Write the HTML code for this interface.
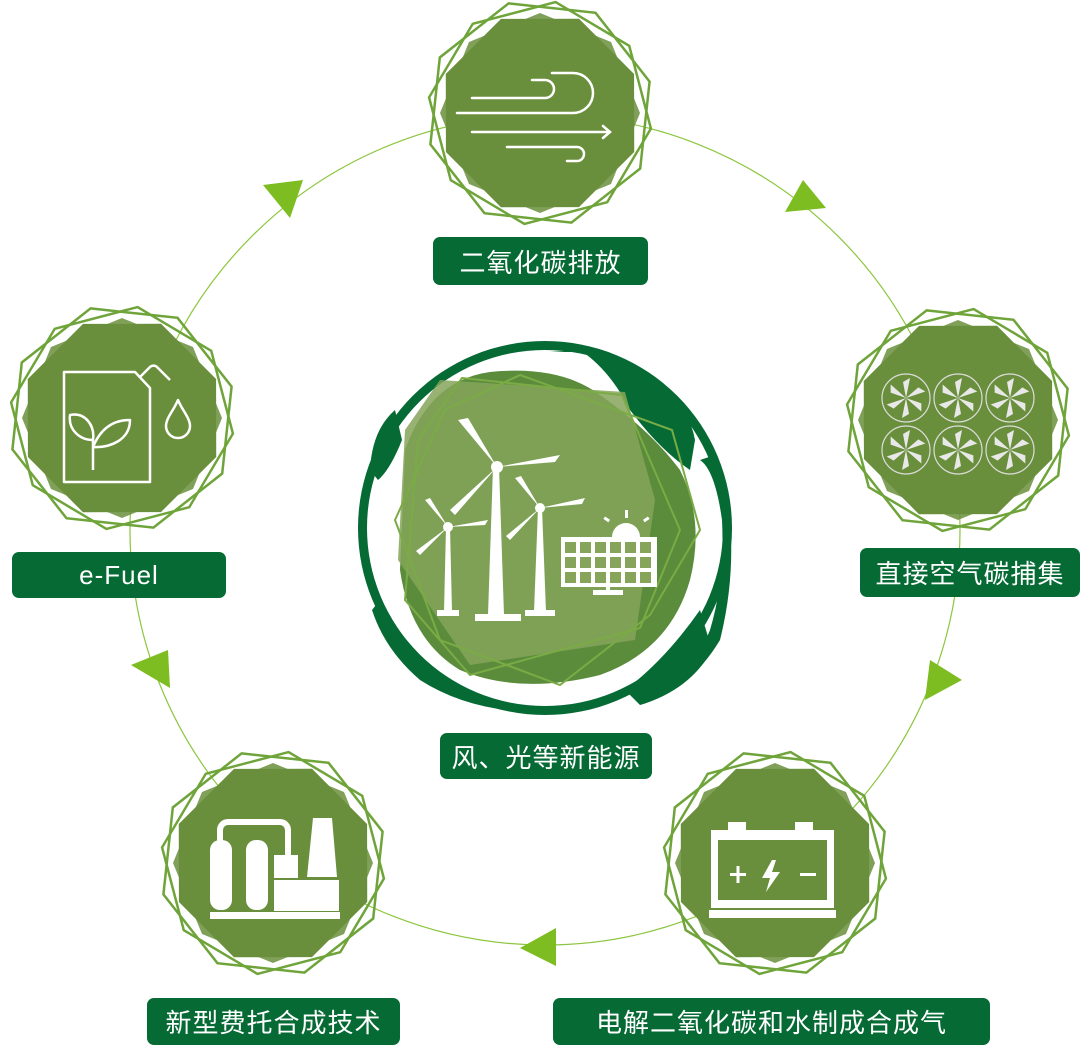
<!DOCTYPE html>
<html><head><meta charset="utf-8"><style>
html,body{margin:0;padding:0;background:#fff;width:1080px;height:1045px;overflow:hidden}
.lb{position:absolute;background:#066a35;color:#fff;border-radius:7px;font-family:"Liberation Sans","Noto Sans CJK SC",sans-serif;font-size:26px;display:flex;align-items:center;justify-content:center;letter-spacing:1px}
</style></head><body>
<svg width="1080" height="1045" style="position:absolute;left:0;top:0">
<defs>
<g id="nd">
<polygon points="0,-102 72,-72 102,0 72,72 0,102 -72,72 -102,0 -72,-72" fill="#6a8f3c" transform="rotate(22.5)"/>
<polygon points="0,-100 71,-71 100,0 71,71 0,100 -71,71 -100,0 -71,-71" fill="#6a8f3c" opacity="0.85"/>
<polygon points="0,-112 79,-79 112,0 79,79 0,112 -79,79 -112,0 -79,-79" fill="none" stroke="#6fa43a" stroke-width="2.5" transform="rotate(8)"/>
<polygon points="0,-114 81,-81 114,0 81,81 0,114 -81,81 -114,0 -81,-81" fill="none" stroke="#6fa43a" stroke-width="2.5" transform="rotate(-16)"/>
</g>
<g id="pin">
<circle r="24" fill="none" stroke="#ddd" stroke-width="1.2"/>
<g fill="#e8e8e8">
<path d="M0,0 L4,-20 L-3,-16 Z"/><path d="M0,0 L4,-20 L-3,-16 Z" transform="rotate(60)"/><path d="M0,0 L4,-20 L-3,-16 Z" transform="rotate(120)"/><path d="M0,0 L4,-20 L-3,-16 Z" transform="rotate(180)"/><path d="M0,0 L4,-20 L-3,-16 Z" transform="rotate(240)"/><path d="M0,0 L4,-20 L-3,-16 Z" transform="rotate(300)"/>
</g></g>
</defs>
<circle cx="545" cy="530" r="415" fill="none" stroke="#8cc63f" stroke-width="1.2"/>
<g fill="#7dbd21">
<polygon points="785,212 826,208 803,180"/>
<polygon points="925,700 962,680 930,660"/>
<polygon points="520,948 556,928 556,966"/>
<polygon points="131,665 170,688 168,650"/>
<polygon points="263,185 303,180 290,218"/>
</g>
<!-- globe -->
<circle cx="545" cy="528" r="187" fill="#066a35"/>
<circle cx="545" cy="528" r="178" fill="#fff"/>
<g fill="#066a35">
<path d="M370,470 Q372,430 395,410 L402,440 Q390,470 378,480 Z"/>
<path d="M380,600 Q400,650 440,680 Q490,705 540,712 Q470,712 420,680 Q385,650 372,610 Z"/>
<path d="M550,352 L580,350 Q610,370 630,410 Q660,450 690,470 L695,440 Q690,410 660,385 Q630,360 600,352 Z"/>
<path d="M700,460 Q715,470 722,520 Q725,580 710,630 Q690,680 640,705 Q690,690 720,640 Q735,580 730,520 Q725,480 715,455 Z"/>
<path d="M625,690 Q665,660 700,610 L712,650 Q690,690 640,705 Z"/>
</g>
<circle cx="568" cy="358" r="6" fill="#fff"/>
<path d="M405,450 Q430,380 490,372 Q560,365 600,395 Q650,430 680,470 Q705,520 690,580 Q670,650 600,675 Q520,695 460,670 Q410,640 400,570 Z" fill="#5a8c3c"/>
<polygon points="440,380 625,392 655,500 635,640 470,665 398,560 405,430" fill="#86a55a" opacity="0.85"/>
<polygon points="462,378 622,395 680,530 640,628 470,675 405,600 418,440" fill="none" stroke="#7aab45" stroke-width="2"/>
<polygon points="520,375 672,430 700,530 650,615 560,685 440,640 395,520 445,410" fill="none" stroke="#7aab45" stroke-width="2"/>
<!-- turbines -->
<g fill="#fff">
<polygon points="493,467 499,467 504,615 488,615"/><rect x="475" y="614" width="46" height="7"/>
<polygon points="538,508 542,508 546,612 534,612"/><rect x="525" y="610" width="30" height="6"/>
<polygon points="446,527 450,527 452,612 444,612"/><rect x="437" y="610" width="22" height="6"/>
<path d="M497,467 L458,420 L468,418 Z M497,467 L560,455 L555,462 Z M497,467 L455,515 L450,510 Z"/>
<circle cx="497" cy="467" r="6"/>
<path d="M540,508 L515,478 L521,476 Z M540,508 L585,498 L582,504 Z M540,508 L510,540 L506,536 Z"/>
<circle cx="540" cy="508" r="5"/>
<path d="M448,527 L425,500 L430,498 Z M448,527 L488,520 L485,525 Z M448,527 L420,555 L416,551 Z"/>
<circle cx="448" cy="527" r="5"/>
<rect x="561" y="537" width="96" height="50"/>
<rect x="593" y="590" width="30" height="5"/><rect x="606" y="585" width="4" height="8"/>
<path d="M612,537 a14,14 0 0 1 28,0 Z"/>
<rect x="625" y="510" width="3" height="8"/><rect x="604" y="518" width="6" height="3" transform="rotate(35 607 519)"/><rect x="643" y="518" width="6" height="3" transform="rotate(-35 646 519)"/>
</g>
<g fill="#86a55a">
<rect x="565" y="542" width="11" height="11"/><rect x="580" y="542" width="11" height="11"/><rect x="595" y="542" width="11" height="11"/><rect x="610" y="542" width="11" height="11"/><rect x="625" y="542" width="11" height="11"/><rect x="640" y="542" width="11" height="11"/>
<rect x="565" y="557" width="11" height="11"/><rect x="580" y="557" width="11" height="11"/><rect x="595" y="557" width="11" height="11"/><rect x="610" y="557" width="11" height="11"/><rect x="625" y="557" width="11" height="11"/><rect x="640" y="557" width="11" height="11"/>
<rect x="565" y="572" width="11" height="11"/><rect x="580" y="572" width="11" height="11"/><rect x="595" y="572" width="11" height="11"/><rect x="610" y="572" width="11" height="11"/><rect x="625" y="572" width="11" height="11"/><rect x="640" y="572" width="11" height="11"/>
</g>
<!-- nodes -->
<use href="#nd" x="540" y="113"/>
<use href="#nd" x="958" y="420"/>
<use href="#nd" x="775" y="863"/>
<use href="#nd" x="273" y="863"/>
<use href="#nd" x="122" y="418"/>
<!-- wind icon -->
<g fill="none" stroke="#fff" stroke-width="2.5" stroke-linecap="round">
<path d="M472,98 H545 a9,9 0 0 0 0,-18 H532"/>
<path d="M457,113 H573 a20,20 0 0 0 0,-40 H552"/>
<path d="M472,132 H610 M603,126 L610,132 L603,138"/>
<path d="M507,147 H577 a7,7 0 0 1 0,14 H567"/>
</g>
<!-- pinwheels -->
<use href="#pin" x="906" y="398"/><use href="#pin" x="958" y="398"/><use href="#pin" x="1010" y="398"/>
<use href="#pin" x="906" y="450"/><use href="#pin" x="958" y="450"/><use href="#pin" x="1010" y="450"/>
<!-- battery -->
<g fill="#fff">
<rect x="728" y="822" width="18" height="8"/><rect x="795" y="822" width="18" height="8"/>
<path d="M711,830 H834 V908 H711 Z M718,840 V900 H827 V840 Z" fill-rule="evenodd"/>
<rect x="709" y="910" width="127" height="8"/>
<rect x="730" y="873" width="16" height="3"/><rect x="736.5" y="866" width="3" height="17"/>
<rect x="800" y="873" width="16" height="3"/>
<path d="M772,860 L762,878 L770,878 L766,892 L780,872 L772,872 L776,860 Z"/>
</g>
<!-- factory -->
<g fill="#fff">
<rect x="210" y="840" width="22" height="70" rx="10"/><rect x="246" y="840" width="22" height="70" rx="10"/>
<path d="M220,842 V830 a8,8 0 0 1 8,-8 H280 a8,8 0 0 1 8,8 V858" fill="none" stroke="#fff" stroke-width="6"/>
<rect x="274" y="855" width="24" height="23"/>
<rect x="274" y="880" width="65" height="31"/>
<polygon points="313,818 332,818 337,877 307,877"/>
<rect x="210" y="912" width="130" height="7"/>
</g>
<!-- fuel can -->
<g fill="none" stroke="#fff" stroke-width="2.5" stroke-linejoin="round">
<path d="M64,372 H135 L150,388 V482 H64 Z"/>
<path d="M140,377 L150,367 a5,5 0 0 1 7,0 L170,380"/>
<path d="M93,470 V440 M93,440 C80,440 68,430 70,415 C85,412 95,425 93,440 Z M93,447 C100,430 112,420 130,420 C130,440 110,448 93,447 Z"/>
<path d="M178,400 C174,410 166,418 166,426 a12,12 0 0 0 24,0 C190,418 182,410 178,400 Z"/>
</g>
</svg>
<div class="lb" style="left:433px;top:237px;width:215px;height:48px">二氧化碳排放</div>
<div class="lb" style="left:860px;top:548px;width:220px;height:49px">直接空气碳捕集</div>
<div class="lb" style="left:440px;top:733px;width:212px;height:46px">风、光等新能源</div>
<div class="lb" style="left:553px;top:998px;width:437px;height:47px">电解二氧化碳和水制成合成气</div>
<div class="lb" style="left:147px;top:998px;width:253px;height:47px">新型费托合成技术</div>
<div class="lb" style="left:12px;top:552px;width:214px;height:46px">e-Fuel</div>
</body></html>
